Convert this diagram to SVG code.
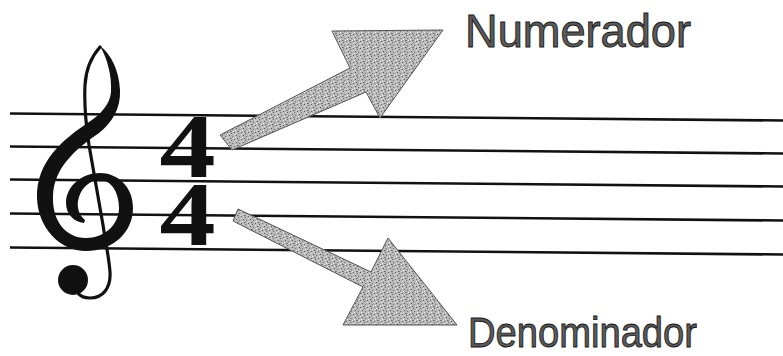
<svg xmlns="http://www.w3.org/2000/svg" width="783" height="356" viewBox="0 0 783 356">
  <defs>
    <pattern id="stipple" width="7" height="7" patternUnits="userSpaceOnUse">
      <rect width="7" height="7" fill="#b8b8b8"/>
      <rect x="0" y="0" width="1" height="1" fill="#666666"/>
      <rect x="3" y="1" width="1" height="1" fill="#e8e8e8"/>
      <rect x="5" y="2" width="1" height="1" fill="#5a5a5a"/>
      <rect x="1" y="3" width="1" height="1" fill="#767676"/>
      <rect x="4" y="4" width="1" height="1" fill="#f0f0f0"/>
      <rect x="6" y="5" width="1" height="1" fill="#6c6c6c"/>
      <rect x="2" y="5" width="1" height="1" fill="#e4e4e4"/>
      <rect x="3" y="6" width="1" height="1" fill="#626262"/>
      <rect x="0" y="5" width="1" height="1" fill="#868686"/>
      <rect x="5" y="0" width="1" height="1" fill="#dddddd"/>
    </pattern>
  </defs>
  <style>
    .staff line { stroke: #111; stroke-width: 2.6; }
    .ink { fill: #111; }
    .stem { fill: none; stroke: #111; stroke-width: 3.2; stroke-linecap: round; }
    .arrow { fill: url(#stipple); stroke: #555; stroke-width: 1; stroke-linejoin: miter; }
    .label { font-family: "Liberation Sans", Arial, sans-serif; fill: #5a5a5a; stroke: #161616; stroke-width: 0.9; }
    .timesig { font-family: "Liberation Serif", "Times New Roman", serif; font-weight: bold; fill: #111; }
  </style>
  <rect width="783" height="356" fill="#ffffff"/>

  <g id="staff" class="staff">
    <line x1="10" y1="113.5" x2="783" y2="120.5"/>
    <line x1="10" y1="146.5" x2="783" y2="153.5"/>
    <line x1="10" y1="179.5" x2="783" y2="186.5"/>
    <line x1="10" y1="213.5" x2="783" y2="220.5"/>
    <line x1="10" y1="247.5" x2="783" y2="254.5"/>
  </g>

  <g id="treble-clef">
    <path class="ink" d="M100,46 C107,58 112,75 111,92 C110,104 101,114 89,122 C62,140 36,162 37,198 C38,228 60,251 86,251 C112,251 133,233 133,208 C133,186 117,173 100,173 C82,173 66,186 66,203 C66,214 74,222 84,223 L85,220 C79,215 77,208 78,201 C80,189 89,180 100,180 C111,180 119,192 119,208 C119,225 104,238 86,238 C65,238 52,220 53,196 C54,167 76,149 99,133 C112,123 121,108 120,90 C119,70 111,54 100,46 Z"/>
    <path class="stem" d="M100,47 C92,56 86,68 85,85 C84,105 86,125 89,145 L103,225 C106,245 109,258 110,272 C111,288 103,298 90,298 C84,298 80,296 78,293"/>
    <circle class="ink" cx="73" cy="280" r="15"/>
  </g>

  <g id="time-signature">
    <text class="timesig" font-size="92" text-anchor="middle" transform="scale(1.22,1)"><tspan x="153.7" y="177">4</tspan><tspan x="153.7" y="245">4</tspan></text>
  </g>

  <g id="connectors">
    <polygon id="arrow-numerador" class="arrow" points="220,135 350,68 332,31 443,30 380,118 366,92 232,150"/>
    <polygon id="arrow-denominador" class="arrow" points="238,209 371,272 388,238 457,325 343,325 363,287 233,221"/>
  </g>

  <g id="label-numerador">
    <text class="label" x="465" y="47" font-size="46" textLength="226" lengthAdjust="spacingAndGlyphs">Numerador</text>
  </g>
  <g id="label-denominador">
    <text class="label" x="468" y="347" font-size="43" textLength="229" lengthAdjust="spacingAndGlyphs">Denominador</text>
  </g>
</svg>
